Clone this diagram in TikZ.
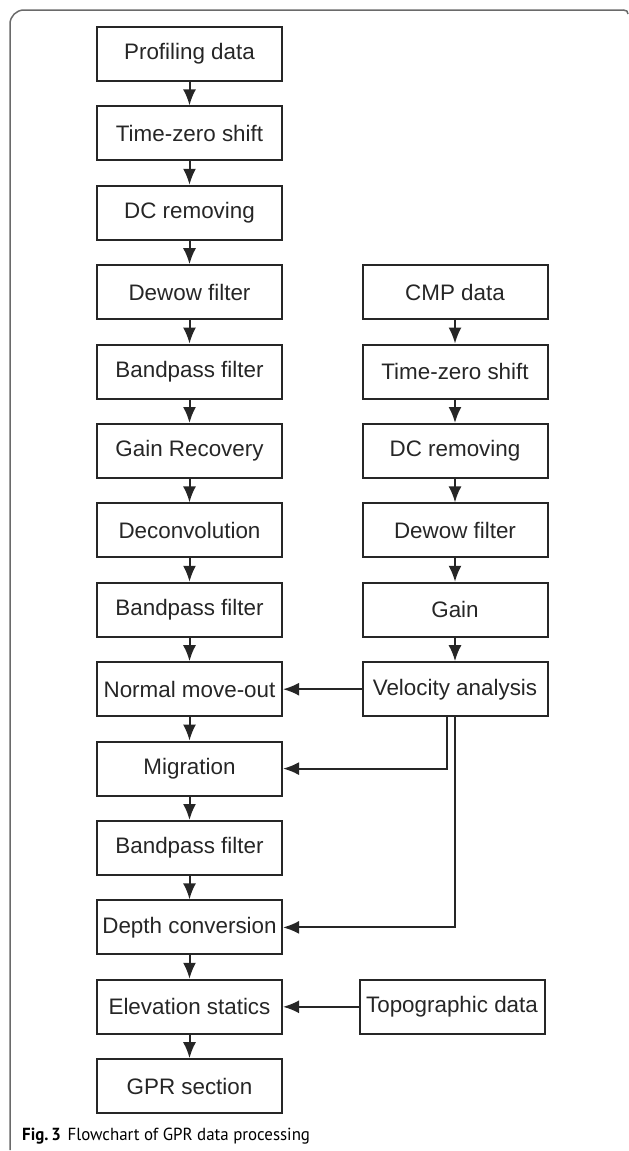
\documentclass[tikz,border=0pt]{standalone}
\usepackage{fontspec}
\setmainfont{Liberation Sans}
\newfontfamily\capfont{PT Sans}
\usetikzlibrary{arrows.meta}
\definecolor{ink}{HTML}{262626}
\definecolor{framegray}{HTML}{6A6A6A}
\tikzset{
  stepbox/.style={draw=ink, line width=2pt, minimum width=185pt, minimum height=54pt,
    inner sep=0pt, font=\fontsize{22.4}{24}\selectfont, text=ink},
  arr/.style={draw=ink, line width=2pt, -{Latex[length=16pt,width=13pt]}},
}
\begin{document}
\begin{tikzpicture}[x=1pt,y=-1pt]
\useasboundingbox (0,0) rectangle (629,1151);
% frame
\draw[framegray, line width=1.5pt, rounded corners=14pt] (10,1150) -- (10,10) -- (624,10);
\draw[framegray, line width=1.5pt] (623.5,10) .. controls (626.5,10) and (628,11.5) .. (628,14);
% left column
\node[stepbox] (p1) at (189.5,54) {Profiling data};
\node[stepbox] (p2) at (189.5,133.4) {Time-zero shift};
\node[stepbox] (p3) at (189.5,212.8) {DC removing};
\node[stepbox] (p4) at (189.5,292.2) {Dewow filter};
\node[stepbox] (p5) at (189.5,371.6) {Bandpass filter};
\node[stepbox] (p6) at (189.5,451) {Gain Recovery};
\node[stepbox] (p7) at (189.5,530.4) {Deconvolution};
\node[stepbox] (p8) at (189.5,609.8) {Bandpass filter};
\node[stepbox] (nmo) at (189.5,689.2) {Normal move-out};
\node[stepbox] (mig) at (189.5,768.6) {Migration};
\node[stepbox] (p11) at (189.5,848) {Bandpass filter};
\node[stepbox] (depth) at (189.5,927.4) {Depth conversion};
\node[stepbox] (elev) at (189.5,1006.8) {Elevation statics};
\node[stepbox] (gpr) at (189.5,1086.2) {GPR section};
% right column
\node[stepbox] (c1) at (455,292.2) {CMP data};
\node[stepbox] (c2) at (455,371.6) {Time-zero shift};
\node[stepbox] (c3) at (455,451) {DC removing};
\node[stepbox] (c4) at (455,530.4) {Dewow filter};
\node[stepbox] (c5) at (455,609.8) {Gain};
\node[stepbox] (vel) at (455,689.2) {Velocity analysis};
\node[stepbox] (topo) at (452,1006.8) {Topographic data};
% vertical arrows
\foreach \a/\b in {p1/p2,p2/p3,p3/p4,p4/p5,p5/p6,p6/p7,p7/p8,p8/nmo,nmo/mig,mig/p11,p11/depth,depth/elev,elev/gpr,c1/c2,c2/c3,c3/c4,c4/c5,c5/vel}
  \draw[arr] (\a.south) -- (\b.north);
% horizontal links
\draw[arr] (vel.west) -- (nmo.east);
\draw[arr] ([xshift=-8pt]vel.south) |- (mig.east);
\draw[arr] (vel.south) |- (depth.east);
\draw[arr] (topo.west) -- (elev.east);
% caption
\node[anchor=base west, inner sep=0pt, text=black, xscale=0.965, font=\capfont\fontsize{17.5}{20}\selectfont] (cap) at (22,1140) {\textbf{Fig.\,3}\hspace{7pt}Flowchart of GPR data processing};
\end{tikzpicture}
\end{document}
